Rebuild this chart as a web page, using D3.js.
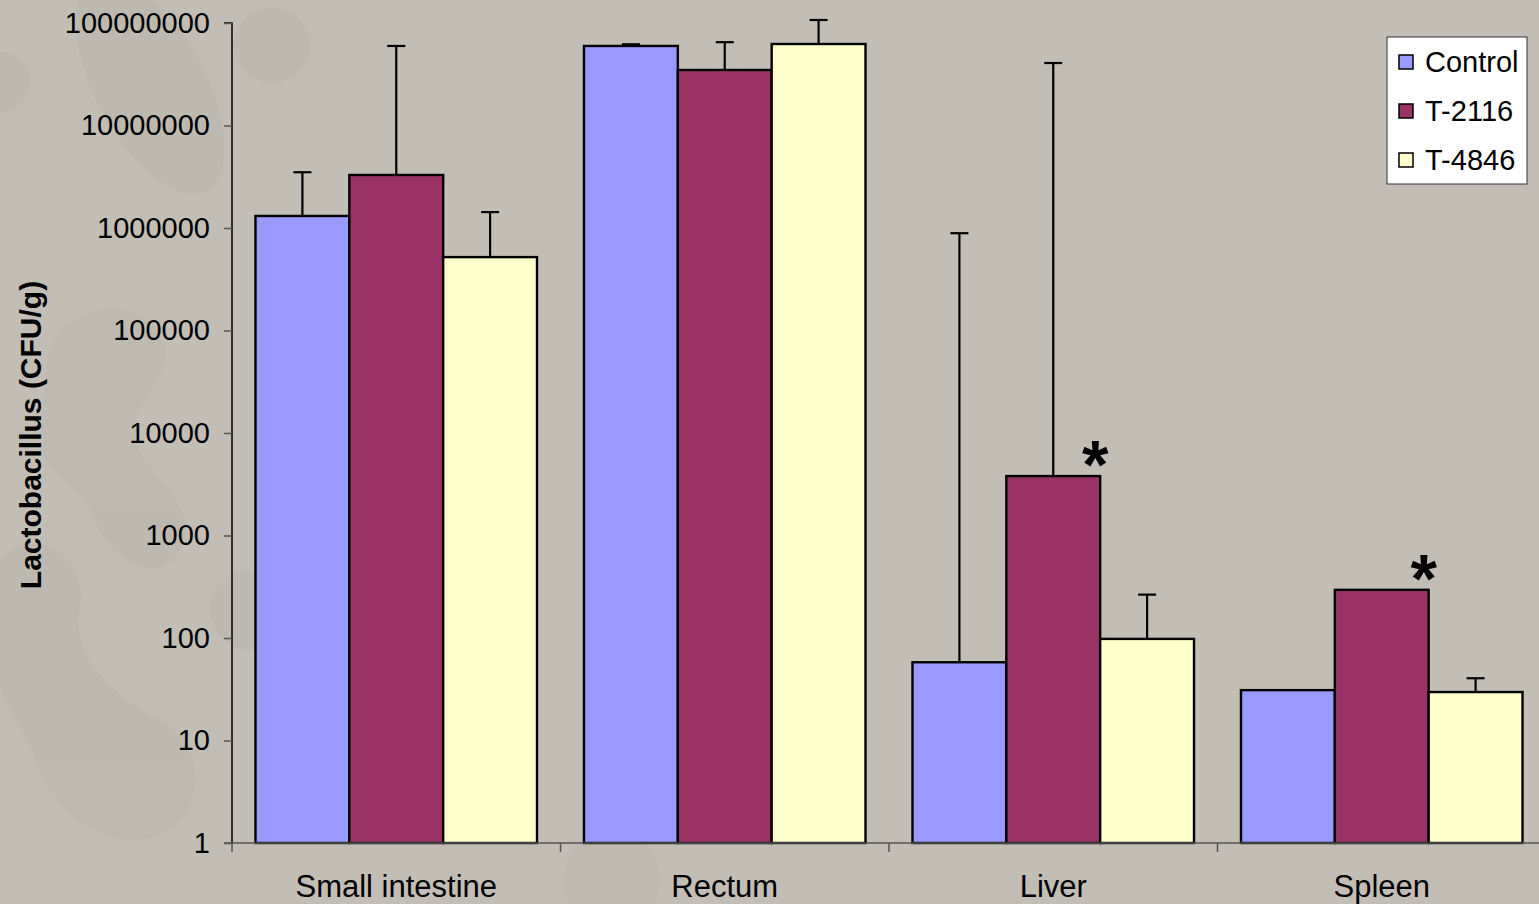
<!DOCTYPE html>
<html>
<head>
<meta charset="utf-8">
<script src="https://cdn.jsdelivr.net/npm/d3@7"></script>
<style>
  html, body { margin: 0; padding: 0; background: #c2beb6; }
  svg { display: block; }
  text { font-family: "Liberation Sans", Arial, sans-serif; }
</style>
</head>
<body>
<svg id="chart" width="1539" height="904"></svg>
<script>
// Lactobacillus counts per organ (CFU/g), mean and upper error
const categories = ["Small intestine", "Rectum", "Liver", "Spleen"];
const seriesNames = ["Control", "T-2116", "T-4846"];
const seriesColors = ["#9999ff", "#993366", "#ffffcc"];

const controlValues = [1.31e6, 5.97e7, 58, 31];
const t2116Values   = [3.29e6, 3.48e7, 3800, 295];
const t4846Values   = [5.2e5, 6.24e7, 98, 29.7];

const controlErrTop = [3.5e6, 6.2e7, 8.9e5, null];
const t2116ErrTop   = [5.97e7, 6.5e7, 4.07e7, null];
const t4846ErrTop   = [1.43e6, 1.07e8, 265, 40.5];

// significance markers
const significant = [
  { category: "Liver", series: "T-2116" },
  { category: "Spleen", series: "T-2116" }
];

const yTickValues = [1, 10, 100, 1000, 10000, 100000, 1000000, 10000000, 100000000];

const values = [controlValues, t2116Values, t4846Values];
const errTops = [controlErrTop, t2116ErrTop, t4846ErrTop];

const svg = d3.select("#chart");
const W = 1539, H = 904;

// decorative background shapes
const deco = svg.append("g").attr("fill", "#b8b3a9").attr("opacity", 0.4);
deco.append("ellipse").attr("cx", 150).attr("cy", 85).attr("rx", 55).attr("ry", 120)
  .attr("transform", "rotate(-28,150,85)");
deco.append("circle").attr("cx", 272).attr("cy", 45).attr("r", 38);
deco.append("circle").attr("cx", 0).attr("cy", 82).attr("r", 30);
deco.append("path").attr("d", "M60,330 C90,300 160,300 165,350 C170,390 120,400 140,450 C150,480 200,500 180,550 C160,590 110,560 95,520 C80,480 30,470 40,420 C50,380 40,360 60,330 Z");
deco.append("path").attr("d", "M0,560 C40,520 90,560 80,610 C70,660 120,700 160,720 C200,740 210,800 170,830 C120,860 60,820 40,770 C20,720 0,700 0,680 Z");
deco.append("circle").attr("cx", 612).attr("cy", 880).attr("r", 48);
deco.append("circle").attr("cx", 250).attr("cy", 610).attr("r", 40);

const margin = { left: 232, top: 23, bottomY: 843 };
const plotRight = 232 + 4 * 328.5;

const x0 = d3.scaleBand().domain(categories).range([margin.left, plotRight]).paddingInner(0.143).paddingOuter(0.0715);
const x1 = d3.scaleBand().domain(seriesNames).range([0, x0.bandwidth()]);
const y = d3.scaleLog().domain([1, 1e8]).range([margin.bottomY, margin.top]);

// bars
const gBars = svg.append("g");
categories.forEach((cat, ci) => {
  seriesNames.forEach((s, si) => {
    const v = values[si][ci];
    gBars.append("rect")
      .attr("x", x0(cat) + x1(s))
      .attr("y", y(v))
      .attr("width", x1.bandwidth())
      .attr("height", y(1) - y(v))
      .attr("fill", seriesColors[si])
      .attr("stroke", "#000")
      .attr("stroke-width", 2.4);
  });
});

// error bars (upper only)
const gErr = svg.append("g").attr("stroke", "#000").attr("stroke-width", 2.2);
categories.forEach((cat, ci) => {
  seriesNames.forEach((s, si) => {
    const top = errTops[si][ci];
    if (top == null) return;
    const cx = x0(cat) + x1(s) + x1.bandwidth() / 2;
    gErr.append("line").attr("x1", cx).attr("x2", cx).attr("y1", y(values[si][ci])).attr("y2", y(top));
    gErr.append("line").attr("x1", cx - 9).attr("x2", cx + 9).attr("y1", y(top)).attr("y2", y(top));
  });
});

// significance asterisks
significant.forEach(d => {
  const ci = categories.indexOf(d.category), si = seriesNames.indexOf(d.series);
  const xr = x0(d.category) + x1(d.series) + x1.bandwidth();
  svg.append("text")
    .attr("x", xr - 5).attr("y", y(values[si][ci]) + 12)
    .attr("text-anchor", "middle")
    .attr("font-size", 68).attr("font-weight", "bold")
    .text("*");
});

// y axis
const yAxis = d3.axisLeft(y).tickValues(yTickValues).tickFormat(d3.format("d")).tickSize(8).tickPadding(14);
const gy = svg.append("g").attr("transform", `translate(${margin.left},0)`).call(yAxis);
gy.select(".domain").attr("stroke", "#000").attr("stroke-width", 1.5).attr("d", `M-8,${margin.top}H0V${margin.bottomY}`);
gy.selectAll(".tick line").attr("stroke", "#555").attr("stroke-width", 1.5);
gy.selectAll(".tick text").attr("font-size", 29).attr("fill", "#000").attr("font-family", "Liberation Sans, Arial, sans-serif");

// x axis
const bounds = d3.range(5).map(i => margin.left + i * 328.5);
const gx = svg.append("g");
gx.append("line").attr("x1", margin.left - 8).attr("x2", W).attr("y1", margin.bottomY).attr("y2", margin.bottomY)
  .attr("stroke", "#555").attr("stroke-width", 1.5);
gx.selectAll("line.b").data(bounds).enter().append("line")
  .attr("x1", d => d).attr("x2", d => d).attr("y1", margin.bottomY).attr("y2", margin.bottomY + 9)
  .attr("stroke", "#555").attr("stroke-width", 1.5);
gx.selectAll("text").data(categories).enter().append("text")
  .attr("x", d => x0(d) + x0.bandwidth() / 2)
  .attr("y", 897)
  .attr("text-anchor", "middle")
  .attr("font-size", 31)
  .text(d => d);

// y axis title
svg.append("text")
  .attr("transform", "translate(41,435) rotate(-90)")
  .attr("text-anchor", "middle")
  .attr("font-size", 30).attr("font-weight", "bold")
  .text("Lactobacillus (CFU/g)");

// legend
const lg = svg.append("g").attr("transform", "translate(1387,37)");
lg.append("rect").attr("width", 140).attr("height", 147).attr("fill", "#fff").attr("stroke", "#333").attr("stroke-width", 1);
seriesNames.forEach((s, i) => {
  const cy = 25 + i * 49;
  lg.append("rect").attr("x", 12).attr("y", cy - 7).attr("width", 14).attr("height", 14)
    .attr("fill", seriesColors[i]).attr("stroke", "#000").attr("stroke-width", 1.5);
  lg.append("text").attr("x", 38).attr("y", cy + 10).attr("font-size", 29).text(s);
});
</script>
</body>
</html>
